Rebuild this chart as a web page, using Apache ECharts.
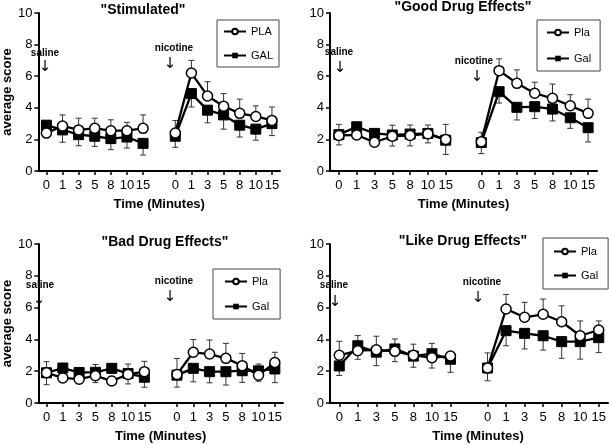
<!DOCTYPE html>
<html>
<head>
<meta charset="utf-8">
<script src="https://cdn.jsdelivr.net/npm/echarts@6/dist/echarts.min.js"></script>
<style>
html,body{margin:0;padding:0;background:#fff;}
#chart{width:609px;height:445px;}
</style>
</head>
<body>
<div id="chart"></div>
<script>
// x-axis tick labels: saline block, gap, nicotine block
const timeLabels = ['0','1','3','5','8','10','15'];
const categories = timeLabels.concat([''], timeLabels);

// Values: 7 saline points followed by 7 nicotine points
// "Stimulated"
const stimPla    = [2.4, 2.85, 2.6, 2.7, 2.55, 2.55, 2.7,   2.4, 6.2, 4.75, 4.1, 3.65, 3.45, 3.2];
const stimPlaErr = [0.3, 0.7, 0.74, 0.64, 0.69, 0.53, 0.85,  0.8, 0.8, 0.9, 0.8, 0.9, 0.67, 0.85];
const stimGal    = [2.9, 2.6, 2.3, 2.2, 2.05, 2.15, 1.75,   2.2, 4.9, 3.85, 3.55, 2.9, 2.65, 3.0];
const stimGalErr = [0.3, 0.78, 0.7, 0.64, 0.7, 0.7, 0.74,    0.7, 0.85, 0.8, 0.9, 0.75, 0.7, 0.76];
// "Good Drug Effects"
const goodPla    = [2.25, 2.28, 1.82, 2.2, 2.25, 2.35, 2.0,  1.85, 6.35, 5.55, 4.92, 4.6, 4.13, 3.65];
const goodPlaErr = [0.7, 0.3, 0.3, 0.7, 0.66, 0.56, 0.95,    0.6, 0.75, 0.85, 0.7, 0.9, 0.7, 0.9];
const goodGal    = [2.3, 2.8, 2.38, 2.28, 2.34, 2.38, 1.95,  1.8, 5.02, 4.03, 4.07, 3.92, 3.37, 2.74];
const goodGalErr = [0.65, 0.3, 0.3, 0.7, 0.75, 0.6, 0.9,     0.7, 0.72, 0.8, 0.75, 0.75, 0.67, 0.9];
// "Bad Drug Effects"
const badPla     = [1.9, 1.58, 1.5, 1.72, 1.38, 1.8, 1.97,   1.8, 3.19, 3.08, 2.81, 2.35, 1.75, 2.54];
const badPlaErr  = [0.7, 0.3, 0.3, 0.7, 0.3, 0.65, 0.65,     1.0, 0.8, 0.88, 0.94, 0.77, 0.7, 0.65];
const badGal     = [1.9, 2.2, 1.92, 1.93, 2.18, 1.85, 1.62,  1.75, 2.18, 1.97, 1.97, 2.03, 2.02, 2.14];
const badGalErr  = [0.75, 0.3, 0.3, 0.65, 0.3, 0.65, 0.63,   0.75, 0.85, 0.7, 0.84, 0.73, 0.65, 0.86];
// "Like Drug Effects"
const likePla    = [3.0, 3.29, 3.35, 3.25, 3.0, 2.85, 2.95,  2.2, 5.91, 5.39, 5.58, 5.11, 4.23, 4.59];
const likePlaErr = [0.88, 0.95, 0.85, 0.78, 0.7, 0.9, 0.2,   0.95, 0.92, 0.94, 0.96, 1.0, 0.93, 0.57];
const likeGal    = [2.33, 3.6, 3.2, 3.4, 2.95, 3.1, 2.75,    2.2, 4.55, 4.38, 4.23, 3.86, 3.86, 4.11];
const likeGalErr = [0.6, 0.85, 0.85, 0.8, 0.7, 0.9, 0.82,    0.8, 0.95, 0.98, 0.9, 1.05, 1.1, 0.94];

const yTicks = {min: 0, max: 10, interval: 2};

const panels = [
  {title: '"Stimulated"', tx: 143, ty: 3, grid: {left: 35, top: 13, width: 245, height: 158},
   pla: stimPla, plaErr: stimPlaErr, gal: stimGal, galErr: stimGalErr, names: ['PLA', 'GAL'], yName: true,
   legend: {left: 217, top: 20, itemGap: 13, padding: [6, 6]}, nameShift: 0},
  {title: '"Good Drug Effects"', tx: 463, ty: 0, grid: {left: 330, top: 13, width: 267, height: 158},
   pla: goodPla, plaErr: goodPlaErr, gal: goodGal, galErr: goodGalErr, names: ['Pla', 'Gal'], yName: false,
   legend: {left: 537, top: 20, itemGap: 15, padding: [7, 9]}, nameShift: 0},
  {title: '"Bad Drug Effects"', tx: 165, ty: 235, grid: {left: 34, top: 244, width: 249, height: 159},
   pla: badPla, plaErr: badPlaErr, gal: badGal, galErr: badGalErr, names: ['Pla', 'Gal'], yName: true,
   legend: {left: 213, top: 269, itemGap: 14, padding: [7, 11]}, nameShift: 0},
  {title: '"Like Drug Effects"', tx: 463, ty: 234, grid: {left: 330, top: 244, width: 278, height: 159},
   pla: likePla, plaErr: likePlaErr, gal: likeGal, galErr: likeGalErr, names: ['Pla', 'Gal'], yName: false,
   legend: {left: 543, top: 238, itemGap: 13, padding: [8, 10]}, nameShift: 18}
];

const annotations = [
  {text: 'saline', x: 45, y: 53, ax: 45, ay: 67},
  {text: 'nicotine', x: 174, y: 48, ax: 170, ay: 64},
  {text: 'saline', x: 339, y: 52, ax: 340, ay: 68},
  {text: 'nicotine', x: 474, y: 61, ax: 477, ay: 77},
  {text: 'saline', x: 40, y: 285, ax: 39, ay: 300},
  {text: 'nicotine', x: 174, y: 281, ax: 170, ay: 297},
  {text: 'saline', x: 334, y: 285, ax: 335, ay: 302},
  {text: 'nicotine', x: 482, y: 282, ax: 478, ay: 298}
];

const FONT = 'Liberation Sans, Arial, sans-serif';

function withGap(a) { return a.slice(0, 7).concat(['-'], a.slice(7)); }
function catIndex(i) { return i < 7 ? i : i + 1; }

function errRenderer(params, api) {
  const x = api.value(0);
  const lo = api.coord([x, api.value(1)]);
  const hi = api.coord([x, api.value(2)]);
  const w = 3;
  const st = {stroke: '#333', lineWidth: 1};
  return {type: 'group', children: [
    {type: 'line', shape: {x1: lo[0], y1: lo[1], x2: hi[0], y2: hi[1]}, style: st},
    {type: 'line', shape: {x1: hi[0] - w, y1: hi[1], x2: hi[0] + w, y2: hi[1]}, style: st},
    {type: 'line', shape: {x1: lo[0] - w, y1: lo[1], x2: lo[0] + w, y2: lo[1]}, style: st}
  ]};
}

const option = {
  animation: false,
  backgroundColor: '#fff',
  textStyle: {fontFamily: FONT, color: '#000'},
  title: [], grid: [], xAxis: [], yAxis: [], legend: [], series: [],
  graphic: []
};

panels.forEach((p, k) => {
  option.title.push({text: p.title, left: p.tx, top: p.ty, textAlign: 'center', padding: 0,
    textStyle: {fontFamily: FONT, fontSize: 14, fontWeight: 'bold', color: '#000'}});
  option.grid.push(Object.assign({containLabel: false}, p.grid));
  option.xAxis.push({
    type: 'category', gridIndex: k, data: categories, boundaryGap: true,
    name: 'Time (Minutes)', nameLocation: 'middle', nameGap: 27,
    nameTextStyle: {fontFamily: FONT, fontSize: 13, fontWeight: 'bold', color: '#000', padding: [0, 0, 0, p.nameShift]},
    axisLine: {lineStyle: {color: '#000', width: 2}},
    axisTick: {show: true, alignWithLabel: true, length: 4, interval: (i) => i !== 7, lineStyle: {color: '#000', width: 1.5}},
    axisLabel: {interval: 0, fontSize: 13, color: '#000', margin: 8, fontFamily: FONT},
    splitLine: {show: false}
  });
  option.yAxis.push({
    type: 'value', gridIndex: k, min: yTicks.min, max: yTicks.max, interval: yTicks.interval,
    name: p.yName ? 'average score' : '', nameLocation: 'middle', nameGap: 18,
    nameTextStyle: {fontFamily: FONT, fontSize: 13, fontWeight: 'bold', color: '#000'},
    axisLine: {show: true, lineStyle: {color: '#000', width: 2}},
    axisTick: {show: true, length: 4, lineStyle: {color: '#000', width: 1.5}},
    axisLabel: {fontSize: 13, color: '#000', margin: 6, fontFamily: FONT},
    splitLine: {show: false}
  });
  option.legend.push(Object.assign({
    data: p.names, orient: 'vertical', itemWidth: 22, itemHeight: 7, itemTextGap: 3,
    borderColor: '#444', borderWidth: 1, borderRadius: 0, selectedMode: false,
    textStyle: {fontFamily: FONT, fontSize: 11, color: '#000'}
  }, p.legend));

  const plaErrData = p.pla.map((v, i) => [catIndex(i), v, v + p.plaErr[i]]);
  const galErrData = p.gal.map((v, i) => [catIndex(i), v - p.galErr[i], v]);
  [plaErrData, galErrData].forEach(d => option.series.push({
    type: 'custom', xAxisIndex: k, yAxisIndex: k, data: d, renderItem: errRenderer,
    encode: {x: 0, y: [1, 2]}, z: 1, silent: true
  }));
  option.series.push({
    name: p.names[1], type: 'line', xAxisIndex: k, yAxisIndex: k, data: withGap(p.gal),
    symbol: 'rect', symbolSize: 10, connectNulls: false, z: 3,
    lineStyle: {color: '#000', width: 2.3}, itemStyle: {color: '#000', borderColor: '#000'}
  });
  option.series.push({
    name: p.names[0], type: 'line', xAxisIndex: k, yAxisIndex: k, data: withGap(p.pla),
    symbol: 'circle', symbolSize: 10, connectNulls: false, z: 4,
    lineStyle: {color: '#000', width: 2.3}, itemStyle: {color: '#fff', borderColor: '#000', borderWidth: 1.5}
  });
});

annotations.forEach(a => {
  option.graphic.push({type: 'text', x: a.x, y: a.y, z: 10, style: {text: a.text, textAlign: 'center', textVerticalAlign: 'middle',
    font: 'bold 10px ' + FONT, fill: '#000'}});
  option.graphic.push({type: 'text', x: a.ax, y: a.ay, z: 10, style: {text: '\u2193', textAlign: 'center', textVerticalAlign: 'middle',
    font: '15px DejaVu Sans', fill: '#000'}});
});

const chart = echarts.init(document.getElementById('chart'), null, {renderer: 'canvas'});
chart.setOption(option);
</script>
</body>
</html>
